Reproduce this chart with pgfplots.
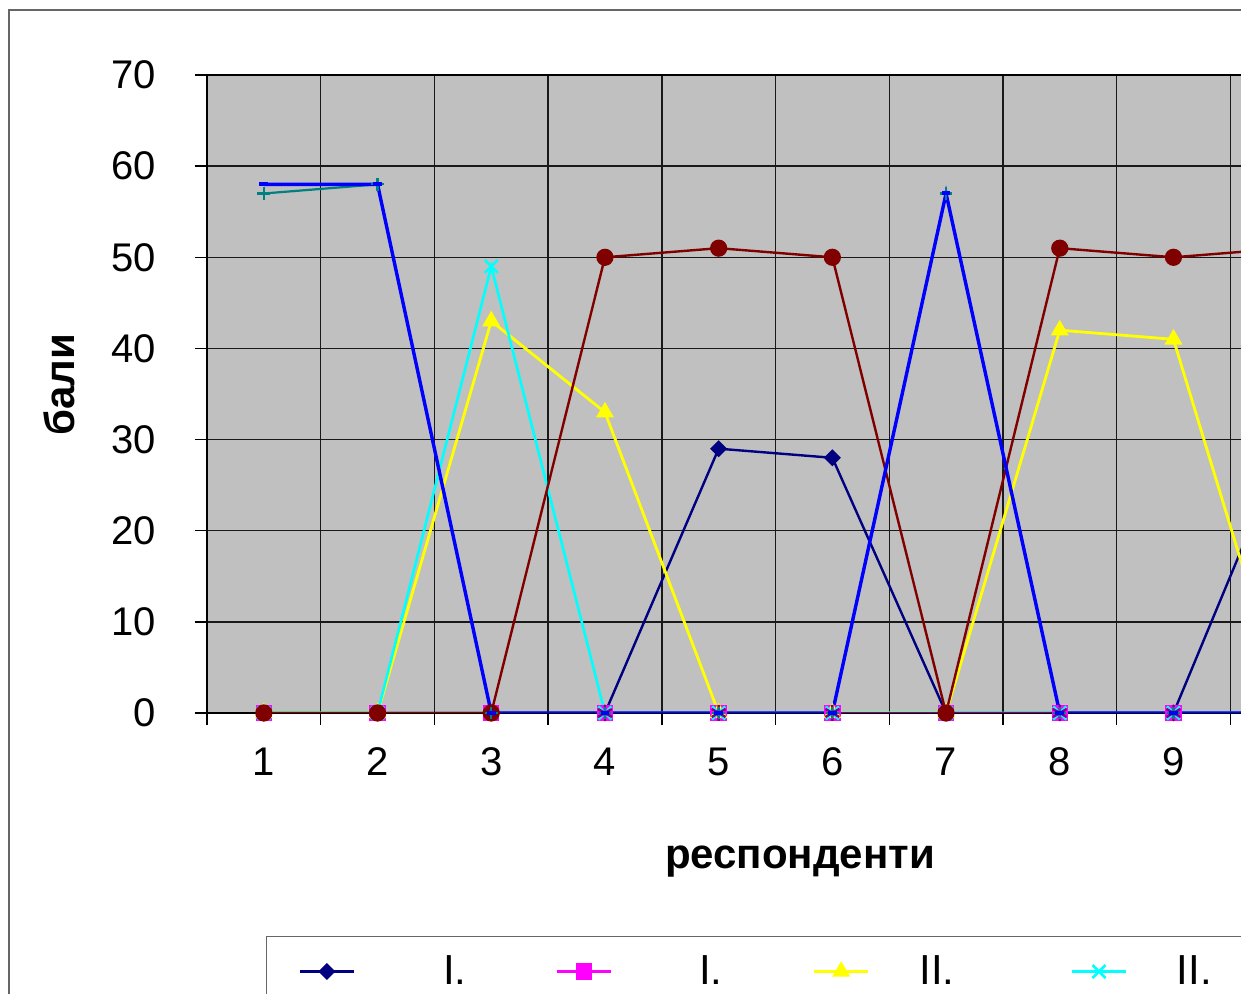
\documentclass[border=0pt]{standalone}
\usepackage{fontspec}
\setmainfont{Liberation Sans}
\usepackage{pgfplots}
\usepackage{pgfplotstable}
\pgfplotsset{compat=1.18}

\definecolor{cNavy}{RGB}{0,0,128}
\definecolor{cMagenta}{RGB}{255,0,255}
\definecolor{cYellow}{RGB}{255,255,0}
\definecolor{cCyan}{RGB}{0,255,255}
\definecolor{cPurple}{RGB}{128,0,128}
\definecolor{cMaroon}{RGB}{128,0,0}
\definecolor{cTeal}{RGB}{0,128,128}
\definecolor{cBlue}{RGB}{0,0,255}
\definecolor{plotbg}{RGB}{192,192,192}

% scores of the respondents, one column per series
\pgfplotstableread{
x  s1 s2 s3 s4 s5 s6 s7 s8
1  0  0  0  0  0  0  57 58
2  0  0  0  0  0  0  58 58
3  0  0  43 49 0  0  0  0
4  0  0  33 0  0  50 0  0
5  29 0  0  0  0  51 0  0
6  28 0  0  0  0  50 0  0
7  0  0  0  0  0  0  57 57
8  0  0  42 0  0  51 0  0
9  0  0  41 0  0  50 0  0
10 30 0  0  0  0  51 0  0
}\scores

% legend text cell of fixed width, label set after a gap
\newcommand{\legtxt}[2]{\makebox[100.35pt][l]{\hspace*{#1}#2}}

\begin{document}
\begin{tikzpicture}
\path[use as bounding box] (0,0) rectangle (620.5pt,497pt);
\begin{scope}
\clip (0,0) rectangle (620.5pt,497pt);
\draw[black!60, line width=0.6pt] (4.5pt,492pt) rectangle (900pt,-100pt);
\begin{axis}[
  at={(103.5pt,140.5pt)}, anchor=south west,
  scale only axis, width=568.5pt, height=319pt,
  xmin=0.5, xmax=10.5, ymin=0, ymax=70,
  axis background/.style={fill=plotbg},
  axis line style={black, line width=0.75pt},
  xtick={0.5,1.5,...,10.5}, xticklabels={},
  ytick={0,10,...,70},
  xtick pos=bottom, ytick pos=left,
  xmajorgrids, ymajorgrids,
  grid style={black!90, line width=0.7pt},
  tick align=outside, major tick length=6pt,
  tick style={black, line width=0.7pt},
  extra x ticks={1,2,...,10},
  extra x tick labels={1,2,3,4,5,6,7,8,9,10},
  extra x tick style={grid=none, major tick length=0pt},
  /pgf/number format/assume math mode=true,
  tick label style={font=\fontsize{20}{24}\selectfont},
  xticklabel style={anchor=center, inner sep=0pt, yshift=-24.5pt},
  yticklabel style={anchor=east, inner sep=0pt, xshift=-19.5pt},
  label style={font=\bfseries\fontsize{21}{25}\selectfont},
  xlabel={респонденти},
  ylabel={бали},
  xlabel style={at={(axis description cs:0.5216,-0.2226)}, anchor=center, yshift=-3.5pt},
  ylabel style={at={(axis description cs:-0.1302,0.5141)}, anchor=center},
  legend columns=4,
  legend image code/.code={
    \draw[mark repeat=2,mark phase=2,#1] plot coordinates {(0pt,0pt) (13.5pt,0pt) (27pt,0pt)};
  },
  legend style={at={(axis description cs:0.05189,-0.3495)}, anchor=north west,
    draw=black!60, line width=0.6pt, fill=white,
    inner xsep=16pt, inner ysep=9.5pt, column sep=0pt, row sep=30pt,
    nodes={inner sep=0pt}, font=\fontsize{21}{25}\selectfont},
  legend cell align=left,
]
\addplot[cNavy, line width=1.2pt, mark=square*, mark size=2.4pt, mark options={rotate=45, solid}]
  table[x=x, y=s1] {\scores};
\addlegendentry{\legtxt{44pt}{I.}}
\addplot[cMagenta, line width=1.2pt, mark=square*, mark size=3.5pt]
  table[x=x, y=s2] {\scores};
\addlegendentry{\legtxt{43.5pt}{I.}}
\addplot[cYellow, line width=1.4pt, mark=triangle*, mark size=3.8pt]
  table[x=x, y=s3] {\scores};
\addlegendentry{\legtxt{25pt}{II.}}
\addplot[cCyan, line width=1.3pt, mark=x, mark size=4.6pt]
  table[x=x, y=s4] {\scores};
\addlegendentry{\legtxt{24.5pt}{II.}}
\addplot[cPurple, line width=1.2pt, mark=asterisk, mark size=4pt]
  table[x=x, y=s5] {\scores};
\addlegendentry{\legtxt{25pt}{III.}}
\addplot[cMaroon, line width=1.2pt, mark=*, mark size=3.7pt]
  table[x=x, y=s6] {\scores};
\addlegendentry{\legtxt{25pt}{III.}}
\addplot[cTeal, line width=1.1pt, mark=+, mark size=3.2pt]
  table[x=x, y=s7] {\scores};
\addlegendentry{\legtxt{25pt}{IV.}}
\addplot[cBlue, line width=1.7pt, mark=-, mark size=2.2pt, mark options={line width=2pt}]
  table[x=x, y=s8] {\scores};
\addlegendentry{\legtxt{25pt}{IV.}}
\end{axis}
\end{scope}
\end{tikzpicture}
\end{document}
